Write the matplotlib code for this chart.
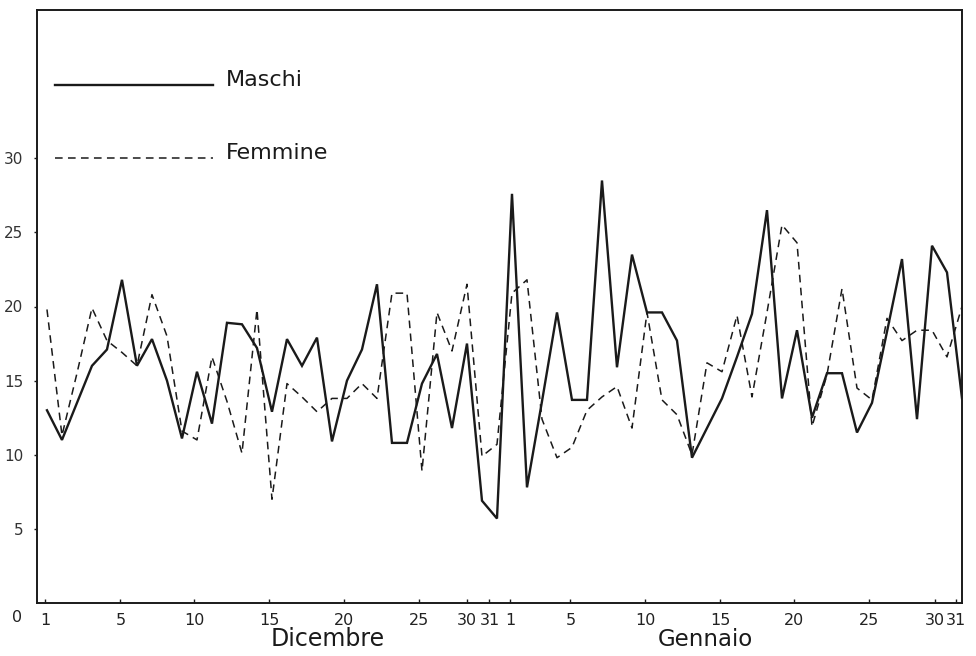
import matplotlib
matplotlib.use("Agg")
import matplotlib.pyplot as plt

# daily values, 1 Dicembre .. 31 Gennaio (62 days)
maschi = [13.0, 11.0, 13.5, 16.0, 17.1, 21.8, 16.0, 17.8, 15.0, 11.1,
          15.6, 12.1, 18.9, 18.8, 17.2, 12.9, 17.8, 16.0, 17.9, 10.9,
          15.0, 17.1, 21.5, 10.8, 10.8, 14.8, 16.8, 11.8, 17.5, 6.9,
          5.7, 27.6, 7.8, 13.6, 19.6, 13.7, 13.7, 28.5, 15.9, 23.5,
          19.6, 19.6, 17.7, 9.8, 11.8, 13.8, 16.6, 19.5, 26.5, 13.8,
          18.4, 12.5, 15.5, 15.5, 11.5, 13.5, 18.3, 23.2, 12.4, 24.1,
          22.3, 13.8]
femmine = [19.8, 11.3, 15.5, 19.9, 17.7, 16.9, 16.0, 20.8, 18.0, 11.6,
           11.0, 16.6, 13.6, 10.1, 19.8, 7.0, 14.8, 13.9, 12.9, 13.8,
           13.8, 14.8, 13.8, 20.9, 20.9, 8.9, 19.6, 17.0, 21.5, 9.9,
           10.7, 20.9, 21.8, 12.4, 9.8, 10.5, 13.0, 13.9, 14.6, 11.8,
           19.6, 13.7, 12.7, 10.0, 16.2, 15.6, 19.4, 13.9, 19.6, 25.5,
           24.3, 11.9, 15.4, 21.2, 14.5, 13.7, 19.2, 17.7, 18.4, 18.4,
           16.6, 20.0]
days = list(range(len(maschi)))

x_labels = ["1", "5", "10", "15", "20", "25", "30", "31",
            "1", "5", "10", "15", "20", "25", "30", "31"]
x_label_pos = [-0.1, 4.9, 9.8, 14.8, 19.8, 24.8, 28.0, 29.5,
               30.9, 34.9, 39.9, 44.9, 49.8, 54.8, 59.2, 60.6]
y_ticks = [5, 10, 15, 20, 25, 30]

ink = "#1a1a1a"
fig = plt.figure(figsize=(9.76, 6.56), dpi=100)
ax = fig.add_axes([37 / 976, 1 - 603 / 656, 925 / 976, 593 / 656])

ax.plot(days, maschi, color=ink, lw=1.7, solid_joinstyle="miter")
ax.plot(days, femmine, color=ink, lw=1.1, dashes=(5, 3.5))

ax.set_xlim(-0.665, 61.0)
ax.set_ylim(0, 40)

for s in ax.spines.values():
    s.set_color(ink)
    s.set_linewidth(1.4)

ax.set_yticks(y_ticks, [str(v) for v in y_ticks])
ax.tick_params(axis="y", direction="out", length=2, width=1, pad=8,
               labelsize=11, labelcolor="#333333", color=ink)
ax.set_xticks(x_label_pos, x_labels)
ax.tick_params(axis="x", direction="in", length=3, width=1, pad=7,
               labelsize=11.5, labelcolor="#222222", color=ink)

ax.text(-0.022, -0.025, "0", transform=ax.transAxes, fontsize=11.5,
        color="#222222", ha="center", va="center")

# months under the axis
fig.text(328 / 976, 1 - 639 / 656, "Dicembre", fontsize=17, color=ink,
         ha="center", va="center")
fig.text(705 / 976, 1 - 640 / 656, "Gennaio", fontsize=16.5, color=ink,
         ha="center", va="center")

# legend drawn by hand, as in the original
ax.plot([0.55, 11.1], [34.95, 34.95], color=ink, lw=1.7)
ax.plot([0.55, 11.1], [30.0, 30.0], color=ink, lw=1.1, dashes=(5, 3.5))
ax.text(11.9, 35.3, "Maschi", fontsize=16, color=ink, va="center")
ax.text(11.9, 30.35, "Femmine", fontsize=16, color=ink, va="center")

fig.savefig("out.png", dpi=100, facecolor="white")
